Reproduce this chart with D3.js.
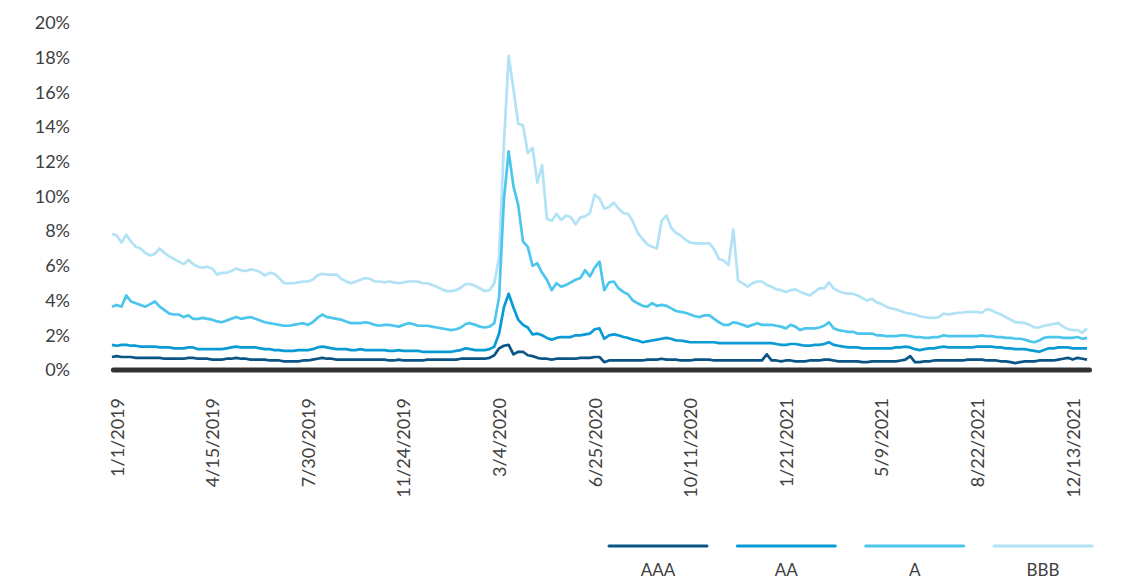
<!DOCTYPE html>
<html>
<head>
<meta charset="utf-8">
<script src="https://cdn.jsdelivr.net/npm/d3@7"></script>
<style>
  html, body { margin: 0; padding: 0; background: #ffffff; }
  svg { display: block; }
  text { font-family: Lato, "Open Sans", sans-serif; fill: #404040; }
</style>
</head>
<body>
<svg id="chart" width="1122" height="579"></svg>
<script>
// ---- DATA ----
const seriesNames = ["AAA", "AA", "A", "BBB"];
const seriesColors = ["#0b5586", "#0a9bd5", "#4cc6ec", "#b2e2f6"];
const dateLabels = ["1/1/2019","4/15/2019","7/30/2019","11/24/2019","3/4/2020","6/25/2020","10/11/2020","1/21/2021","5/9/2021","8/22/2021","12/13/2021"];
const dateLabelIndex = [1,21,41,61,81,101,121,141,161,181,201];
const yTicks = [0,2,4,6,8,10,12,14,16,18,20];

const BBB = [7.85,7.75,7.35,7.8,7.4,7.1,7.0,6.75,6.6,6.7,
7.0,6.75,6.55,6.4,6.25,6.1,6.35,6.1,5.95,5.9,
5.95,5.85,5.5,5.6,5.6,5.7,5.85,5.75,5.7,5.8,
5.75,5.65,5.45,5.6,5.55,5.3,5.0,5.0,5.0,5.05,
5.1,5.1,5.2,5.45,5.55,5.5,5.5,5.5,5.25,5.1,
5.0,5.1,5.2,5.3,5.25,5.1,5.1,5.05,5.1,5.05,
5.0,5.05,5.1,5.1,5.1,5.0,5.0,4.9,4.8,4.65,
4.55,4.55,4.6,4.75,4.95,4.95,4.85,4.7,4.55,4.6,
5.0,6.5,13.0,18.1,16.2,14.2,14.1,12.5,12.8,10.8,
11.8,8.7,8.6,9.0,8.65,8.9,8.8,8.4,8.8,8.85,
9.05,10.1,9.9,9.3,9.4,9.65,9.3,9.05,9.0,8.55,
7.9,7.55,7.25,7.1,7.0,8.6,8.9,8.2,7.9,7.75,
7.5,7.35,7.3,7.3,7.3,7.3,6.95,6.4,6.3,6.05,
8.1,5.15,5.0,4.8,5.0,5.1,5.1,4.9,4.8,4.65,
4.6,4.5,4.6,4.65,4.5,4.4,4.3,4.5,4.7,4.7,
5.05,4.7,4.55,4.45,4.4,4.4,4.3,4.15,4.0,4.1,
3.9,3.8,3.65,3.55,3.5,3.4,3.3,3.25,3.2,3.1,
3.05,3.0,3.0,3.05,3.25,3.2,3.25,3.3,3.3,3.35,
3.35,3.35,3.3,3.5,3.45,3.3,3.2,3.05,2.9,2.75,
2.75,2.7,2.6,2.45,2.45,2.55,2.6,2.65,2.7,2.5,
2.35,2.3,2.3,2.15,2.4];

const A = [3.65,3.75,3.65,4.3,3.95,3.85,3.75,3.65,3.8,3.95,
3.65,3.45,3.25,3.2,3.2,3.05,3.15,2.95,2.95,3.0,
2.95,2.9,2.8,2.75,2.85,2.95,3.05,2.95,3.0,3.05,
2.95,2.85,2.75,2.7,2.65,2.6,2.55,2.55,2.6,2.65,
2.7,2.6,2.75,3.0,3.2,3.05,3.0,2.95,2.9,2.8,
2.7,2.7,2.7,2.75,2.7,2.6,2.55,2.6,2.6,2.55,
2.5,2.6,2.7,2.65,2.55,2.55,2.55,2.5,2.45,2.4,
2.35,2.3,2.35,2.45,2.65,2.7,2.6,2.5,2.45,2.5,
2.7,4.2,9.8,12.6,10.6,9.5,7.4,7.1,6.0,6.15,
5.6,5.2,4.6,5.0,4.8,4.9,5.05,5.2,5.3,5.75,
5.4,5.9,6.25,4.6,5.05,5.1,4.7,4.5,4.35,4.0,
3.85,3.7,3.65,3.85,3.7,3.75,3.7,3.55,3.4,3.35,
3.3,3.2,3.1,3.05,3.15,3.15,2.95,2.75,2.6,2.6,
2.75,2.7,2.6,2.5,2.6,2.7,2.6,2.6,2.6,2.55,
2.5,2.4,2.6,2.5,2.3,2.4,2.4,2.4,2.45,2.55,
2.75,2.4,2.3,2.25,2.2,2.2,2.1,2.1,2.1,2.1,
2.0,2.0,1.95,1.95,1.95,2.0,2.0,1.95,1.9,1.9,
1.85,1.85,1.9,1.9,2.0,1.95,1.95,1.95,1.95,1.95,
1.95,1.95,2.0,1.95,1.95,1.9,1.9,1.85,1.85,1.8,
1.8,1.75,1.65,1.6,1.7,1.85,1.9,1.9,1.9,1.85,
1.85,1.85,1.9,1.8,1.85];

const AA = [1.45,1.4,1.45,1.45,1.4,1.4,1.35,1.35,1.35,1.35,
1.3,1.3,1.3,1.25,1.25,1.25,1.3,1.3,1.2,1.2,
1.2,1.2,1.2,1.2,1.25,1.3,1.35,1.3,1.3,1.3,
1.3,1.25,1.2,1.2,1.15,1.15,1.1,1.1,1.1,1.15,
1.15,1.15,1.2,1.3,1.35,1.3,1.25,1.2,1.2,1.2,
1.15,1.15,1.2,1.15,1.15,1.15,1.15,1.15,1.1,1.1,
1.15,1.1,1.1,1.1,1.1,1.05,1.05,1.05,1.05,1.05,
1.05,1.05,1.1,1.15,1.25,1.2,1.15,1.15,1.15,1.2,
1.35,2.1,3.6,4.4,3.6,2.9,2.6,2.45,2.05,2.1,
2.0,1.85,1.75,1.85,1.9,1.9,1.9,2.0,2.0,2.05,
2.1,2.35,2.4,1.8,2.0,2.05,2.0,1.9,1.85,1.75,
1.7,1.6,1.65,1.7,1.75,1.8,1.85,1.8,1.7,1.7,
1.65,1.6,1.6,1.6,1.6,1.6,1.6,1.55,1.55,1.55,
1.55,1.55,1.55,1.55,1.55,1.55,1.55,1.55,1.55,1.5,
1.45,1.45,1.5,1.5,1.45,1.4,1.4,1.45,1.45,1.5,
1.6,1.45,1.4,1.35,1.3,1.3,1.3,1.25,1.25,1.25,
1.25,1.25,1.25,1.25,1.3,1.3,1.35,1.3,1.2,1.15,
1.2,1.25,1.25,1.3,1.35,1.3,1.3,1.3,1.3,1.3,
1.3,1.35,1.35,1.35,1.35,1.3,1.3,1.25,1.25,1.2,
1.2,1.2,1.15,1.1,1.05,1.15,1.25,1.25,1.3,1.3,
1.3,1.25,1.25,1.25,1.25];

const AAA = [0.75,0.8,0.75,0.75,0.75,0.7,0.7,0.7,0.7,0.7,
0.7,0.65,0.65,0.65,0.65,0.65,0.7,0.7,0.65,0.65,
0.65,0.6,0.6,0.6,0.65,0.65,0.7,0.65,0.65,0.6,
0.6,0.6,0.6,0.55,0.55,0.55,0.5,0.5,0.5,0.5,
0.55,0.55,0.6,0.65,0.7,0.65,0.65,0.6,0.6,0.6,
0.6,0.6,0.6,0.6,0.6,0.6,0.6,0.6,0.55,0.55,
0.6,0.55,0.55,0.55,0.55,0.55,0.6,0.6,0.6,0.6,
0.6,0.6,0.6,0.65,0.65,0.65,0.65,0.65,0.65,0.7,
0.85,1.25,1.4,1.45,0.9,1.05,1.05,0.85,0.8,0.7,
0.65,0.65,0.6,0.65,0.65,0.65,0.65,0.65,0.7,0.7,
0.7,0.75,0.75,0.45,0.55,0.55,0.55,0.55,0.55,0.55,
0.55,0.55,0.6,0.6,0.6,0.65,0.6,0.6,0.6,0.55,
0.55,0.55,0.6,0.6,0.6,0.6,0.55,0.55,0.55,0.55,
0.55,0.55,0.55,0.55,0.55,0.55,0.55,0.9,0.55,0.55,
0.5,0.55,0.55,0.5,0.5,0.5,0.55,0.55,0.55,0.6,
0.6,0.55,0.5,0.5,0.5,0.5,0.5,0.45,0.45,0.5,
0.5,0.5,0.5,0.5,0.5,0.55,0.6,0.8,0.45,0.45,
0.5,0.5,0.55,0.55,0.55,0.55,0.55,0.55,0.55,0.6,
0.6,0.6,0.6,0.55,0.55,0.55,0.5,0.5,0.45,0.4,
0.45,0.5,0.5,0.5,0.55,0.55,0.55,0.55,0.6,0.65,
0.7,0.6,0.7,0.65,0.6];

const seriesValues = [AAA, AA, A, BBB];

// ---- CHART ----
const svg = d3.select("#chart");
const x = d3.scaleLinear().domain([1, 201]).range([116.7, 1072.7]);
const y = d3.scaleLinear().domain([0, 20]).range([370, 23]);
const fontStack = "Lato, 'Open Sans', sans-serif";

// y axis
const yAxis = d3.axisLeft(y).tickValues(yTicks).tickFormat(d => d + "%").tickSize(0).tickPadding(0);
const gy = svg.append("g").attr("transform", "translate(70,0)").call(yAxis);
gy.select(".domain").remove();
gy.selectAll("text").style("font-family", fontStack).style("font-size", "18px").attr("fill", "#404040");

// x axis
const xAxis = d3.axisBottom(x).tickValues(dateLabelIndex).tickFormat((d, i) => dateLabels[i]).tickSize(0);
const gx = svg.append("g").attr("transform", `translate(0,${y(0)})`).call(xAxis);
gx.select(".domain").remove();
gx.selectAll("text")
  .attr("transform", "rotate(-90)")
  .attr("x", -28).attr("y", 0).attr("dy", "0.35em")
  .style("text-anchor", "end")
  .style("font-family", fontStack).style("font-size", "18px").attr("fill", "#404040");

// lines (BBB first so darker lines are on top)
const line = d3.line().x((d, i) => x(i)).y(d => y(d));
const order = [3, 2, 1, 0];
order.forEach(k => {
  svg.append("path")
    .datum(seriesValues[k])
    .attr("fill", "none")
    .attr("stroke", seriesColors[k])
    .attr("stroke-width", 2.7)
    .attr("stroke-linejoin", "round")
    .attr("d", line);
});

// baseline
const nPts = BBB.length;
svg.append("line")
  .attr("x1", x(0) + 1.5).attr("x2", x(nPts - 1) + 2.5)
  .attr("y1", y(0)).attr("y2", y(0))
  .attr("stroke", "#333333").attr("stroke-width", 5).attr("stroke-linecap", "round");

// legend
const lg = d3.scalePoint().domain(seriesNames).range([658, 1043]);
const legend = svg.append("g");
seriesNames.forEach((n, k) => {
  const cx = lg(n);
  legend.append("line").attr("x1", cx - 49).attr("x2", cx + 49).attr("y1", 546).attr("y2", 546)
    .attr("stroke", seriesColors[k]).attr("stroke-width", 3).attr("stroke-linecap", "round");
  legend.append("text").attr("x", cx).attr("y", 576).attr("text-anchor", "middle")
    .style("font-family", fontStack).style("font-size", "17px").text(n);
});
</script>
</body>
</html>
